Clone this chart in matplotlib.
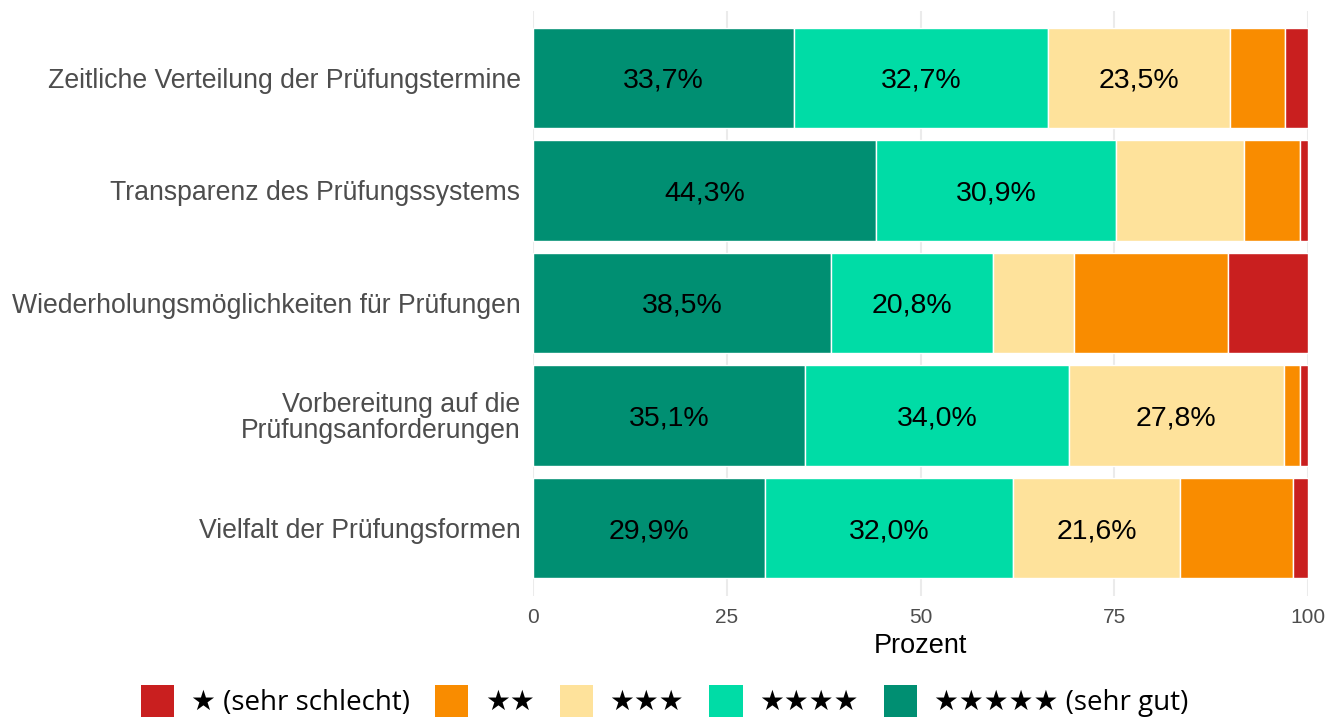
import numpy as np
import matplotlib
matplotlib.use('Agg')
import matplotlib.pyplot as plt
from matplotlib.patches import Patch

plt.rcParams['font.family'] = ['Liberation Sans', 'DejaVu Sans']

categories = ['Zeitliche Verteilung der Prüfungstermine',
              'Transparenz des Prüfungssystems',
              'Wiederholungsmöglichkeiten für Prüfungen',
              'Vorbereitung auf die\nPrüfungsanforderungen',
              'Vielfalt der Prüfungsformen']

# anteile je bewertung, von 5 sterne bis 1 stern
s5 = [33.7, 44.3, 38.5, 35.1, 29.9]
s4 = [32.7, 30.9, 20.8, 34.0, 32.0]
s3 = [23.5, 16.5, 10.5, 27.8, 21.6]
s2 = [7.1, 7.3, 19.9, 2.1, 14.6]
s1 = [3.0, 1.0, 10.3, 1.0, 1.9]

serien = [s5, s4, s3, s2, s1]
farben = ['#008F72', '#00DCA6', '#FEE29B', '#F98C00', '#C91F1F']
legende = ['★ (sehr schlecht)', '★★', '★★★', '★★★★', '★★★★★ (sehr gut)']

fig = plt.figure(figsize=(13.29, 7.17), dpi=100)
ax = fig.add_axes([533/1329, 1-595.5/717, 775/1329, 585/717])

y = np.arange(len(categories))[::-1] + 1
links = np.zeros(len(categories))
for werte, farbe in zip(serien, farben):
    werte = np.array(werte)
    ax.barh(y, werte, left=links, height=0.89, color=farbe,
            edgecolor='white', linewidth=1, zorder=2)
    for yi, l, w in zip(y, links, werte):
        if w >= 20:
            ax.text(l + w/2, yi, f'{w:.1f}%'.replace('.', ','),
                    ha='center', va='center_baseline', fontsize=20.5, color='black', zorder=3)
    links += werte

ax.set_xlim(0, 100)
ax.set_ylim(0.4, 5.6)
ax.set_yticks(y)
ax.set_yticklabels(categories, fontsize=19.2, color='#4D4D4D', linespacing=1.0)
ax.set_xticks([0, 25, 50, 75, 100])
ax.set_xticklabels(['0', '25', '50', '75', '100'], fontsize=15, color='#4D4D4D')
ax.set_xlabel('Prozent', fontsize=19.5, labelpad=4)
ax.tick_params(length=0)
ax.tick_params(axis='x', pad=9)
ax.tick_params(axis='y', pad=9)
ax.grid(axis='x', color='#EBEBEB', linewidth=1.5, zorder=0)
for s in ax.spines.values():
    s.set_visible(False)

handles = [Patch(facecolor=f, edgecolor='none') for f in farben[::-1]]
fig.legend(handles, legende, loc='center', bbox_to_anchor=(0.5, 1-701/717),
           ncol=5, frameon=False, handlelength=1.2, handleheight=1.4,
           handletextpad=0.6, columnspacing=0.9,
           prop={'family': ['Open Sans', 'DejaVu Sans'], 'size': 20})

fig.savefig('out.png', dpi=100)
